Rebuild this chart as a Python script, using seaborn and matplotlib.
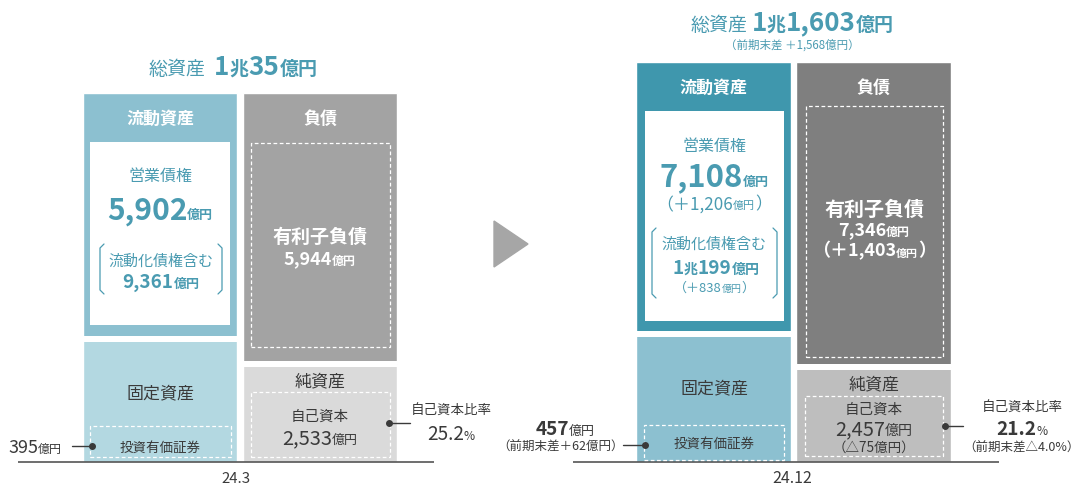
import matplotlib
matplotlib.use("Agg")
import matplotlib.pyplot as plt
import seaborn as sns
from matplotlib.patches import Rectangle, Polygon
from matplotlib.lines import Line2D

# ---- balance sheet figures (億円) ----
periods = ["24.3", "24.12"]
total_assets = [10035, 11603]
total_assets_change = [None, 1568]
current_assets = [6690, 7890]
fixed_assets = [3345, 3713]
liabilities = [7370, 8833]
net_assets = [2665, 2770]
trade_receivables = [5902, 7108]
trade_receivables_change = [None, 1206]
receivables_incl_securitized = [9361, 10199]
receivables_incl_change = [None, 838]
interest_bearing_debt = [5944, 7346]
interest_bearing_debt_change = [None, 1403]
equity = [2533, 2457]
equity_change = [None, -75]
investment_securities = [395, 457]
investment_securities_change = [None, 62]
equity_ratio = [25.2, 21.2]
equity_ratio_change = [None, -4.0]
sides = ["資産", "負債・純資産"]

W, H = 1080, 485
BASE = 463
sns.set_style("white")
plt.rcParams["font.family"] = ["Noto Sans CJK JP", "DejaVu Sans"]

fig = plt.figure(figsize=(W / 100, H / 100), dpi=100)
fig.patch.set_facecolor("white")
renderer = fig.canvas.get_renderer()

TEAL = "#4a9bb1"
DARK = "#3a3a3a"
WHITE = "white"


def fx(x):
    return x / W


def fy(y):
    return 1 - y / H


def rich(x, y, parts, color, ha="center"):
    """Draw a run of text pieces of mixed size on one baseline."""
    maxsz = max(p[1] for p in parts)
    base = y + 0.37 * maxsz
    objs = []
    for s, sz, wt in parts:
        objs.append(fig.text(0, fy(base), s, fontsize=sz * 0.72, fontweight=wt,
                             color=color, ha="left", va="baseline"))
    widths = [t.get_window_extent(renderer).width for t in objs]
    total = sum(widths)
    start = {"center": x - total / 2, "left": x, "right": x - total}[ha]
    for t, w in zip(objs, widths):
        t.set_x(fx(start))
        start += w


def frame(x0, y0, x1, y1, dashed=True, fill=None):
    if fill:
        r = Rectangle((fx(x0), fy(y1)), (x1 - x0) / W, (y1 - y0) / H,
                      transform=fig.transFigure, facecolor=fill, edgecolor="none", zorder=3)
    else:
        r = Rectangle((fx(x0), fy(y1)), (x1 - x0) / W, (y1 - y0) / H,
                      transform=fig.transFigure, fill=False, edgecolor="white",
                      linestyle=(0, (3, 2)), linewidth=0.9, zorder=3)
    fig.add_artist(r)


def bracket(x, y0, y1, d):
    xs = [x + d * 4, x, x, x + d * 4]
    ys = [y0, y0 + 4, y1 - 4, y1]
    fig.add_artist(Line2D([fx(v) for v in xs], [fy(v) for v in ys],
                          transform=fig.transFigure, color=TEAL, lw=0.9, zorder=4))


def callout(x0, x1, y, dot_x):
    fig.add_artist(Line2D([fx(x0), fx(x1)], [fy(y), fy(y)], transform=fig.transFigure,
                          color=DARK, lw=1.0, zorder=4))
    fig.add_artist(Line2D([fx(dot_x)], [fy(y)], transform=fig.transFigure, marker="o",
                          markersize=4, color=DARK, zorder=5))


def oku(v):
    return f"{v:,}"


# ---- stacked bars for each period ----
panel_top = [94, 63]
col0_center = [160, 713.5]
col_pitch = 160
bar_w = 0.966
baseline_px = [(18, 434), (573, 999)]
palettes = [
    {"current": "#8cc0d0", "fixed": "#b3d8e1", "liab": "#a3a3a3", "net": "#dadada"},
    {"current": "#3f97ad", "fixed": "#8cc0d0", "liab": "#7f7f7f", "net": "#bebebe"},
]

for i in range(2):
    ax = fig.add_axes([0, 0, 1, 1])
    ax.set_facecolor("none")
    pal = palettes[i]
    segments = [
        (sides[0], fixed_assets[i], 0, pal["fixed"]),
        (sides[0], current_assets[i], fixed_assets[i], pal["current"]),
        (sides[1], net_assets[i], 0, pal["net"]),
        (sides[1], liabilities[i], net_assets[i], pal["liab"]),
    ]
    for side, val, bottom, c in segments:
        sns.barplot(x=[side], y=[val], order=sides, bottom=bottom, color=c,
                    saturation=1, width=bar_w, errorbar=None, ax=ax, zorder=1)
    # white separation between stacked segments
    for j, b in enumerate([fixed_assets[i], net_assets[i]]):
        ax.hlines(b, j - bar_w / 2, j + bar_w / 2, color="white", lw=6 * 0.72, zorder=2)
    k = total_assets[i] / (BASE - panel_top[i])
    ax.set_ylim(-(H - BASE) * k, BASE * k)
    x_lo = (0 - col0_center[i]) / col_pitch
    x_hi = (W - col0_center[i]) / col_pitch
    ax.set_xlim(x_lo, x_hi)
    bx0, bx1 = [(p - col0_center[i]) / col_pitch for p in baseline_px[i]]
    ax.hlines(0, bx0, bx1, color="#555555", lw=1.2, zorder=3)
    ax.axis("off")

# ---- arrow between periods ----
fig.add_artist(Polygon([(fx(494), fy(222)), (fx(494), fy(268)), (fx(528), fy(245))],
                       closed=True, transform=fig.transFigure, color="#a6a6a6"))

# ---- 24.3 annotations ----
ta = total_assets[0]
rich(233, 65, [("総資産", 19, "normal"), ("  ", 19, "normal"), (str(ta // 10000), 26, "bold"),
               ("兆", 19, "bold"), (oku(ta % 10000), 26, "bold"), ("億円", 19, "bold")], TEAL)
rich(160, 118, [("流動資産", 17, "bold")], WHITE)
frame(90, 143, 230, 326, fill="white")
rich(160, 175, [("営業債権", 16, "normal")], TEAL)
rich(160, 208, [(oku(trade_receivables[0]), 30, "bold"), ("億円", 13, "bold")], TEAL)
bracket(100, 245, 295, 1)
bracket(222, 245, 295, -1)
rich(161, 260, [("流動化債権含む", 15, "normal")], TEAL)
rich(161, 281, [(oku(receivables_incl_securitized[0]), 19, "bold"), ("億円", 13, "bold")], TEAL)
rich(320, 118, [("負債", 17, "bold")], WHITE)
frame(251, 144, 390, 348)
rich(320, 236, [("有利子負債", 19, "bold")], WHITE)
rich(320, 258, [(oku(interest_bearing_debt[0]), 18, "bold"), ("億円", 12, "bold")], WHITE)
rich(320, 380, [("純資産", 17, "normal")], DARK)
frame(251, 393, 390, 458)
rich(320, 415, [("自己資本", 14.5, "normal")], DARK)
rich(320, 437, [(oku(equity[0]), 20, "normal"), ("億円", 13, "normal")], DARK)
rich(160, 392, [("固定資産", 17, "normal")], DARK)
frame(90, 427, 231, 458)
rich(160, 447, [("投資有価証券", 13.5, "normal")], DARK)
rich(8, 446, [(oku(investment_securities[0]), 18, "normal"), ("億円", 12, "normal")], DARK, ha="left")
callout(72, 92, 447, 92)
callout(389, 410, 424, 389)
rich(451, 410, [("自己資本比率", 13.5, "normal")], DARK)
rich(451, 433, [(f"{equity_ratio[0]:.1f}", 19, "normal"), ("%", 12, "normal")], DARK)
rich(236, 477, [(periods[0], 15, "normal")], DARK)

# ---- 24.12 annotations ----
ta = total_assets[1]
rich(792, 21, [("総資産", 19, "normal"), (" ", 19, "normal"), (str(ta // 10000), 26, "bold"),
               ("兆", 19, "bold"), (oku(ta % 10000), 26, "bold"), ("億円", 19, "bold")], TEAL)
rich(792, 44, [(f"（前期末差 ＋{oku(total_assets_change[1])}億円）", 11.5, "normal")], TEAL)
rich(713, 87, [("流動資産", 17, "bold")], WHITE)
frame(645, 112, 784, 322, fill="white")
rich(714, 145, [("営業債権", 16, "normal")], TEAL)
rich(714, 175, [(oku(trade_receivables[1]), 31, "bold"), ("億円", 13, "bold")], TEAL)
rich(714, 203, [(f"（＋{oku(trade_receivables_change[1])}", 17, "normal"), ("億円", 11, "normal"),
                ("）", 17, "normal")], TEAL)
bracket(652, 229, 299, 1)
bracket(777, 229, 299, -1)
rich(714, 243, [("流動化債権含む", 15, "normal")], TEAL)
ri = receivables_incl_securitized[1]
rich(716, 267, [(str(ri // 10000), 19, "bold"), ("兆", 14, "bold"), (oku(ri % 10000), 19, "bold"),
                ("億円", 14, "bold")], TEAL)
rich(714, 287, [(f"（＋{oku(receivables_incl_change[1])}", 13, "normal"), ("億円", 10, "normal"),
                ("）", 13, "normal")], TEAL)
rich(873, 87, [("負債", 17, "bold")], WHITE)
frame(806, 107, 943, 358)
rich(874, 208, [("有利子負債", 20, "bold")], WHITE)
rich(874, 229, [(oku(interest_bearing_debt[1]), 18, "bold"), ("億円", 12, "bold")], WHITE)
rich(874, 250, [(f"（＋{oku(interest_bearing_debt_change[1])}", 18, "bold"), ("億円", 11, "bold"),
                ("）", 18, "bold")], WHITE)
rich(874, 383, [("純資産", 17, "normal")], DARK)
frame(805, 397, 943, 457)
rich(874, 408, [("自己資本", 14.5, "normal")], DARK)
rich(874, 428, [(oku(equity[1]), 20, "normal"), ("億円", 14, "normal")], DARK)
rich(874, 447, [(f"（△{abs(equity_change[1])}億円）", 13.5, "normal")], DARK)
rich(714, 387, [("固定資産", 17, "normal")], DARK)
frame(644, 426, 784, 461)
rich(714, 443, [("投資有価証券", 13.5, "normal")], DARK)
rich(565, 428, [(oku(investment_securities[1]), 19, "bold"), ("億円", 13, "normal")], DARK)
rich(561, 446, [(f"（前期末差＋{investment_securities_change[1]}億円）", 12.5, "normal")], DARK)
callout(623, 645, 446, 645)
callout(945, 963, 427, 945)
rich(1022, 407, [("自己資本比率", 13.5, "normal")], DARK)
rich(1022, 428, [(f"{equity_ratio[1]:.1f}", 19, "bold"), ("%", 12, "normal")], DARK)
rich(1021, 447, [(f"（前期末差△{abs(equity_ratio_change[1]):.1f}%）", 12.5, "normal")], DARK)
rich(792, 477, [(periods[1], 16, "normal")], DARK)

fig.savefig("out.png", dpi=100, facecolor="white")
